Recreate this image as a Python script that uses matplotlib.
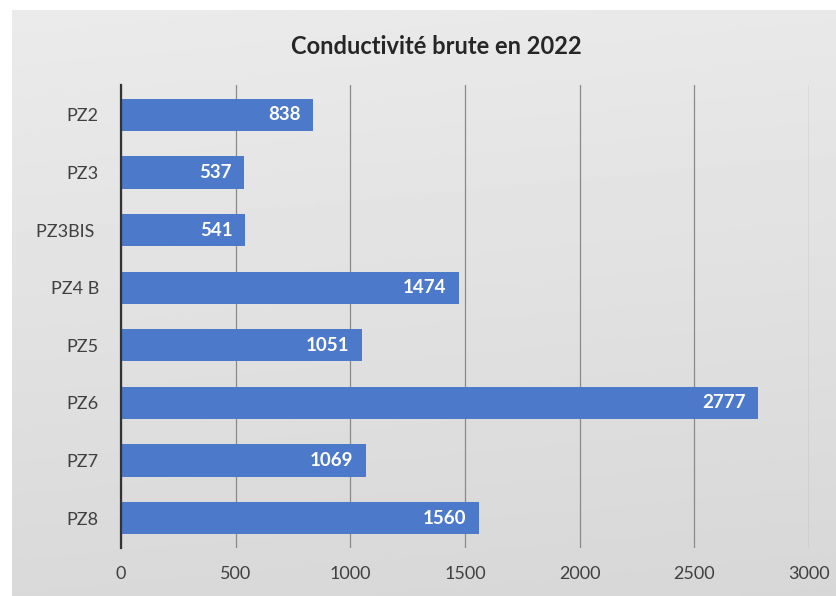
import numpy as np
import matplotlib
matplotlib.use("Agg")
import matplotlib.pyplot as plt

# data
stations = ["PZ2", "PZ3", "PZ3BIS ", "PZ4 B", "PZ5", "PZ6", "PZ7", "PZ8"]
conductivite = [838, 537, 541, 1474, 1051, 2777, 1069, 1560]
xticks = [0, 500, 1000, 1500, 2000, 2500, 3000]

plt.rcParams['font.family'] = ['Lato', 'DejaVu Sans']

fig = plt.figure(figsize=(8.36, 5.96), dpi=100)
fig.patch.set_facecolor("white")

# gray gradient background of the chart area
bg = fig.add_axes([12 / 836, 0, 1 - 12 / 836, 1 - 10 / 596], zorder=0)
grad = np.linspace(0.93, 0.86, 256).reshape(-1, 1)
horiz = np.linspace(0.99, 0.98, 256).reshape(1, -1)
bg.imshow(grad * horiz, cmap="gray", vmin=0, vmax=1, aspect="auto",
          extent=[0, 1, 0, 1])
bg.set_axis_off()

ax = fig.add_axes([121 / 836, 48 / 596, 688 / 836, 463 / 596], zorder=1)
ax.patch.set_alpha(0)

y = np.arange(len(stations))
bars = ax.barh(y, conductivite, height=0.56, color="#4c79ca", zorder=3)
for b, v in zip(bars, conductivite):
    ax.annotate(str(v), (v, b.get_y() + b.get_height() / 2),
                xytext=(-9, 0), textcoords="offset points", ha="right",
                va="center", color="white", fontweight="bold", fontsize=13.5,
                zorder=4)

ax.set_yticks(y)
ax.set_yticklabels(stations, fontsize=13, color="#404040")
ax.set_ylim(7.52, -0.52)
ax.set_xlim(0, 3000)
ax.set_xticks(xticks)
ax.set_xticklabels([str(t) for t in xticks], fontsize=13, color="#404040")
ax.tick_params(axis="x", length=0, pad=13)
ax.tick_params(axis="y", length=0, pad=16)

ax.grid(axis="x", color="#8a8a8a", linewidth=0.9, zorder=1)
ax.grid(axis="y", visible=False)
for s in ["top", "right", "bottom"]:
    ax.spines[s].set_visible(False)
ax.spines["left"].set_color("#333333")
ax.spines["left"].set_linewidth(1.6)
ax.spines["left"].set_zorder(5)

fig.text(436 / 836, 1 - 47 / 596, "Conductivité brute en 2022", ha="center",
         va="center", fontsize=17, fontweight="bold", color="#262626")

fig.savefig("out.png", dpi=100)
